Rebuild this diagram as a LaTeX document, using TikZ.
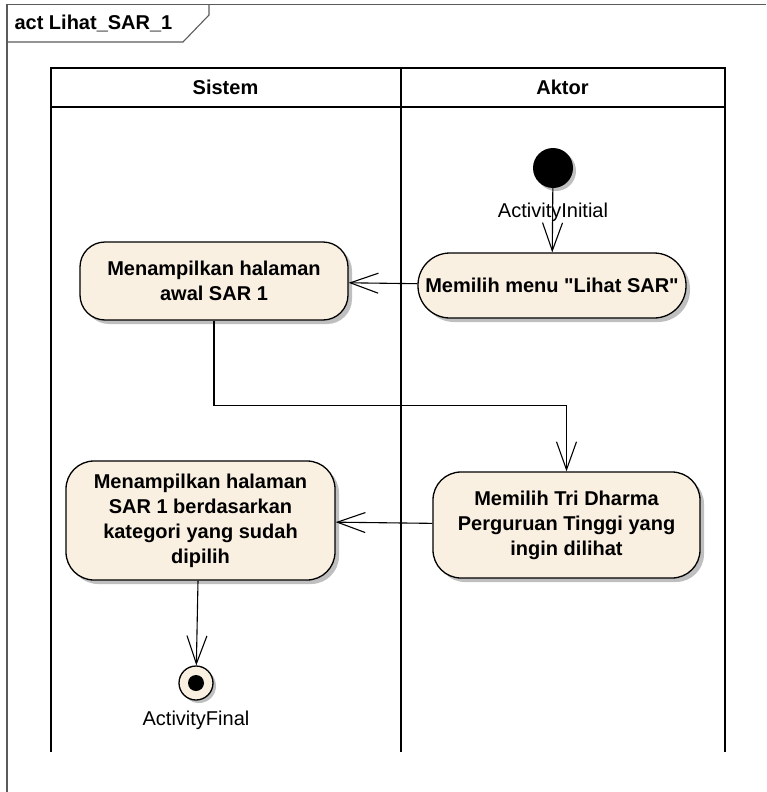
\documentclass[tikz,border=0pt]{standalone}
\usepackage{fontspec}
\setmainfont{Liberation Sans}
\usetikzlibrary{arrows.meta,shadows}

\definecolor{actfill}{RGB}{250,240,225}
\definecolor{framegray}{RGB}{90,90,90}

\tikzset{
  action/.style={draw, line width=1.3pt, fill=actfill, rounded corners=#1,
    align=center, font=\fontsize{20}{25}\selectfont\bfseries, inner sep=2pt,
    drop shadow={shadow xshift=4pt, shadow yshift=-4pt, fill=black!25, opacity=1}},
  flow/.style={line width=1.1pt, -{Straight Barb[length=28pt,width=20pt,line width=1.1pt]}},
  lane/.style={line width=2pt},
  caption/.style={font=\fontsize{20}{24}\selectfont},
  heading/.style={font=\fontsize{20}{24}\selectfont\bfseries}
}

\begin{document}
\begin{tikzpicture}[x=1pt, y=-1pt]
  \useasboundingbox (0,0) rectangle (766,792);

  % frame
  \draw[framegray, line width=1.3pt] (7,792) -- (7,4.5) -- (766,4.5);
  \draw[framegray, line width=1.1pt] (7,42) -- (183,42) -- (209,15) -- (209,4.5);
  \node[heading, anchor=west] (title) at (11,23) {act Lihat\_SAR\_1};

  % swimlanes
  \draw[lane] (50.5,752) -- (50.5,68.5) -- (725,68.5) -- (725,752);
  \draw[lane] (400.5,68.5) -- (400.5,752);
  \draw[lane] (50.5,106.5) -- (725,106.5);
  \node[heading] (sistem) at (225.5,87.5) {Sistem};
  \node[heading] (aktor) at (562.5,87.5) {Aktor};

  % nodes
  \node[circle, fill=black, minimum size=40pt, inner sep=0pt,
    drop shadow={shadow xshift=3pt, shadow yshift=-3pt, fill=black!25, opacity=1}] (start) at (553,168) {};
  \node[caption] at (553,212) {ActivityInitial};

  \node[action=32pt, minimum width=268pt, minimum height=65pt] (pilihmenu) at (552,285.5)
    {Memilih menu \textquotedbl Lihat SAR\textquotedbl};
  \node[action=25pt, minimum width=268pt, minimum height=78pt] (awal) at (214,281)
    {Menampilkan halaman\\awal SAR 1};
  \node[action=28pt, minimum width=267pt, minimum height=106pt] (tridharma) at (566.5,525)
    {Memilih Tri Dharma\\Perguruan Tinggi yang\\ingin dilihat};
  \node[action=28pt, minimum width=269pt, minimum height=119pt] (kategori) at (200.5,520.5)
    {Menampilkan halaman\\SAR 1 berdasarkan\\kategori yang sudah\\dipilih};

  \node[circle, draw, line width=1.3pt, fill=actfill, minimum size=34pt, inner sep=0pt,
    drop shadow={shadow xshift=3pt, shadow yshift=-3pt, fill=black!25, opacity=1}] (final) at (196,683) {};
  \fill (final) circle (8pt);
  \node[caption] at (196,720) {ActivityFinal};

  % edges
  \draw[flow] (start) -- (pilihmenu);
  \draw[flow] (pilihmenu) -- (awal);
  \draw[flow] (awal.south) -- ++(0,85) -| (tridharma.north);
  \draw[flow] (tridharma) -- (kategori);
  \draw[flow] (kategori.south -| 198,0) -- (final);
\end{tikzpicture}
\end{document}
